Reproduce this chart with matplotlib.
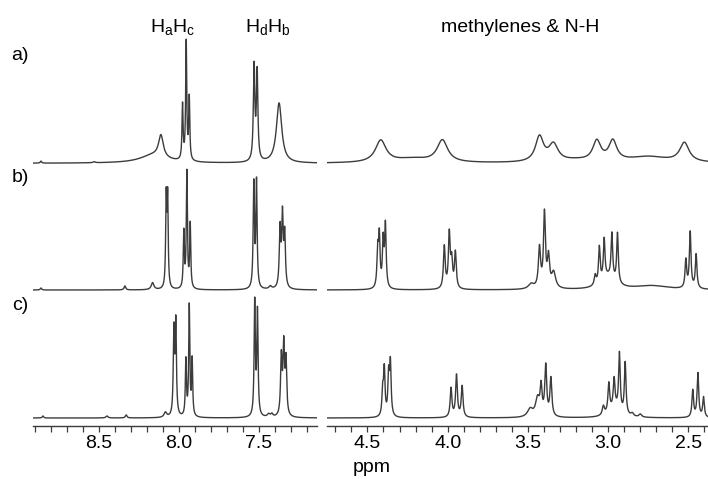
import numpy as np
import matplotlib

matplotlib.use("Agg")
import matplotlib.pyplot as plt
from matplotlib.ticker import MultipleLocator, FormatStrFormatter

plt.rcParams["font.family"] = ["Liberation Sans", "DejaVu Sans"]
plt.rcParams["mathtext.fontset"] = "custom"
plt.rcParams["mathtext.rm"] = "Liberation Sans"
plt.rcParams["mathtext.it"] = "Liberation Sans"

# peak lists (ppm, intensity, line width in ppm) for each sample
a_ppm = [8.862, 8.53, 8.16, 8.113, 7.978, 7.955, 7.936, 7.531, 7.512, 7.375,
         4.417, 4.22, 4.033, 3.428, 3.341, 3.2, 3.071, 2.971, 2.75, 2.525]
a_int = [2, 1, 8, 22, 55, 118, 62, 94, 88, 60,
         22, 4, 22, 25, 17, 2, 20, 20, 6, 19]
a_lw = [0.01, 0.015, 0.2, 0.035, 0.008, 0.008, 0.008, 0.011, 0.011, 0.04,
        0.08, 0.25, 0.08, 0.06, 0.07, 0.2, 0.06, 0.06, 0.3, 0.07]

b_ppm = [8.862, 8.338, 8.165, 8.080, 8.071, 7.970, 7.951, 7.930, 7.533, 7.516,
         7.43, 7.369, 7.354, 7.340,
         4.436, 4.426, 4.402, 4.388, 4.021, 3.990, 3.975, 3.952,
         3.48, 3.428, 3.397, 3.372, 3.34, 3.081, 3.055, 3.025, 3.0, 2.977, 2.942,
         2.73, 2.516, 2.489, 2.452]
b_int = [2, 4, 7, 88, 88, 56, 116, 64, 104, 106,
         3, 58, 70, 52,
         36, 50, 46, 62, 42, 54, 26, 36,
         5, 40, 74, 30, 16, 10, 36, 40, 12, 45, 50,
         4, 28, 56, 34]
b_lw = [0.01, 0.012, 0.02, 0.008, 0.008, 0.008, 0.008, 0.008, 0.009, 0.009,
        0.02, 0.011, 0.011, 0.011,
        0.011, 0.011, 0.011, 0.011, 0.013, 0.013, 0.013, 0.013,
        0.04, 0.016, 0.014, 0.016, 0.03, 0.014, 0.012, 0.012, 0.1, 0.012, 0.012,
        0.25, 0.012, 0.012, 0.012]

c_ppm = [8.85, 8.45, 8.33, 8.085, 8.032, 8.020, 7.957, 7.936, 7.918, 7.527, 7.510,
         7.44, 7.42, 7.361, 7.346, 7.332,
         4.405, 4.395, 4.368, 4.357, 3.979, 3.945, 3.910,
         3.486, 3.44, 3.418, 3.389, 3.357,
         3.030, 2.996, 2.963, 2.96, 2.930, 2.894, 2.85, 2.80,
         2.473, 2.441, 2.406]
c_int = [2, 2, 3, 5, 84, 92, 56, 110, 56, 114, 104,
         3, 3, 58, 68, 54,
         24, 46, 40, 52, 29, 42, 31,
         8, 18, 28, 50, 38,
         9, 29, 29, 9, 58, 52, 3, 3,
         27, 44, 20]
c_lw = [0.01, 0.015, 0.012, 0.02, 0.009, 0.009, 0.008, 0.008, 0.008, 0.009, 0.009,
        0.02, 0.015, 0.011, 0.011, 0.011,
        0.011, 0.011, 0.011, 0.011, 0.013, 0.013, 0.013,
        0.04, 0.03, 0.014, 0.014, 0.014,
        0.016, 0.013, 0.013, 0.08, 0.012, 0.012, 0.02, 0.02,
        0.012, 0.012, 0.012]

spectra = [(a_ppm, a_int, a_lw), (b_ppm, b_int, b_lw), (c_ppm, c_int, c_lw)]
trace_offsets = [262.4, 135.7, 7.7]
trace_labels = ["a)", "b)", "c)"]

aromatic_range = (8.91, 7.14)
aliphatic_range = (4.75, 2.378)

LINE_COLOR = "#3c3c3c"
W, H = 708, 479


def lorentzian_sum(x, centers, heights, widths):
    y = np.zeros_like(x)
    for x0, h, w in zip(centers, heights, widths):
        y += h / (1.0 + ((x - x0) / (w / 2.0)) ** 2)
    return y


def style_axis(ax, xlim):
    ax.set_xlim(*xlim)
    ax.set_ylim(0, 425.7)
    for side in ("left", "right", "top"):
        ax.spines[side].set_visible(False)
    ax.spines["bottom"].set_color(LINE_COLOR)
    ax.spines["bottom"].set_linewidth(1.0)
    ax.set_yticks([])
    ax.xaxis.set_major_locator(MultipleLocator(0.5))
    ax.xaxis.set_minor_locator(MultipleLocator(0.1))
    ax.xaxis.set_major_formatter(FormatStrFormatter("%.1f"))
    ax.tick_params(axis="x", which="both", direction="out", length=4, width=0.9,
                   color=LINE_COLOR, labelsize=14, pad=3)
    ax.patch.set_alpha(0)


fig = plt.figure(figsize=(W / 100, H / 100), dpi=100)
bottom = 53.3 / H
height = 425.7 / H
ax_left = fig.add_axes([33.3 / W, bottom, 283.4 / W, height])
ax_right = fig.add_axes([327.3 / W, bottom, 380.7 / W, height])

for ax, xr in ((ax_left, aromatic_range), (ax_right, aliphatic_range)):
    x = np.linspace(xr[0], xr[1], 6000)
    for (ppm, inten, lw), off in zip(spectra, trace_offsets):
        ax.plot(x, off + lorentzian_sum(x, ppm, inten, lw), color=LINE_COLOR, lw=1.0)
    style_axis(ax, xr)

ax_right.set_xlabel("ppm", fontsize=14)
ax_right.xaxis.set_label_coords((372 - 327.3) / 380.7, -(468 - 425.7) / 425.7)
ax_right.xaxis.label.set_va("center")
ax_right.xaxis.label.set_ha("center")

for label, py in zip(trace_labels, [56, 178, 305]):
    fig.text(20 / W, 1 - py / H, label, ha="center", va="center", fontsize=14)

fig.text(173 / W, 1 - 32 / H, r"H$_\mathrm{a}$H$_\mathrm{c}$", ha="center", va="baseline", fontsize=14)
fig.text(268 / W, 1 - 32 / H, r"H$_\mathrm{d}$H$_\mathrm{b}$", ha="center", va="baseline", fontsize=14)
fig.text(520 / W, 1 - 31.5 / H, "methylenes & N-H", ha="center", va="baseline", fontsize=14)

fig.savefig("out.png", dpi=100, facecolor="white")
